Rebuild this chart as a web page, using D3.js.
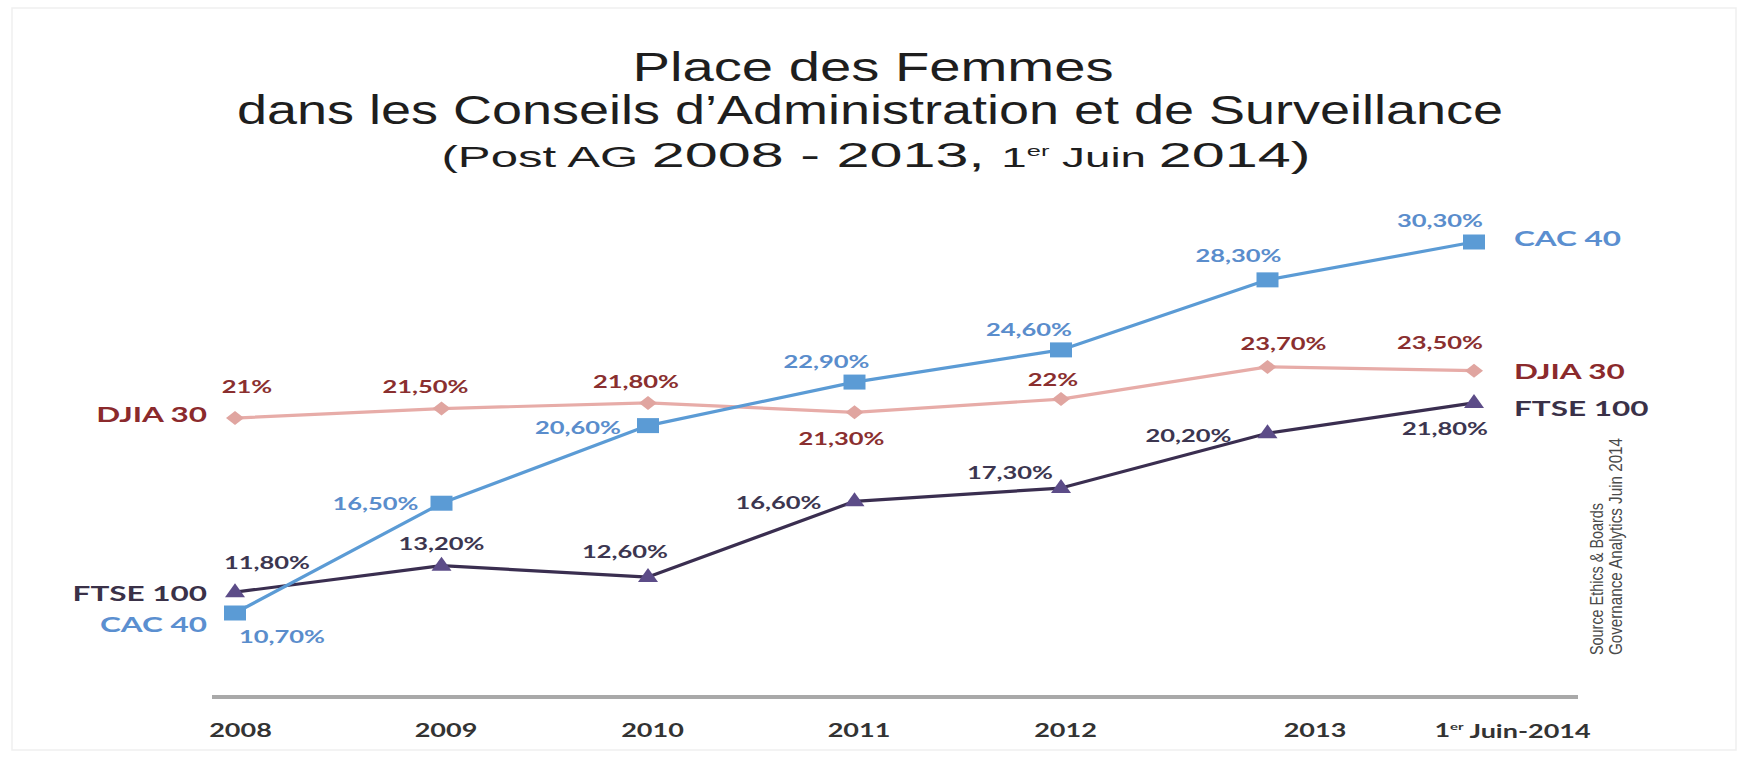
<!DOCTYPE html>
<html>
<head>
<meta charset="utf-8">
<script src="https://cdn.jsdelivr.net/npm/d3@7"></script>
<style>
  html, body { margin: 0; padding: 0; background: #fff; }
  svg { display: block; }
</style>
</head>
<body>
<svg id="plot" width="1742" height="758"></svg>
<script>
// data
const years = ["2008", "2009", "2010", "2011", "2012", "2013", "2014"];
const tickLabels = ["2008", "2009", "2010", "2011", "2012", "2013", "1er Juin-2014"];
const cac40 = [10.7, 16.5, 20.6, 22.9, 24.6, 28.3, 30.3];
const djia30 = [21, 21.5, 21.8, 21.3, 22, 23.7, 23.5];
const ftse100 = [11.8, 13.2, 12.6, 16.6, 17.3, 20.2, 21.8];
const seriesNames = ["CAC 40", "DJIA 30", "FTSE 100"];

// label placement (dx, dy from the marker)
const cacLabelPos = [[47, 24], [-66, 1], [-70, 2], [-28, -20], [-32, -20], [-29, -24], [-34, -21]];
const djiaLabelPos = [[12, -31], [-16, -22], [-12, -21], [-13, 27], [-8, -19], [16, -23], [-34, -28]];
const ftseLabelPos = [[32, -29], [0, -22], [-23, -25], [-76, 2], [-51, -15], [-79, 3], [-29, 26]];

const svg = d3.select("#plot");
const SX = 1.5; // text in the source is stretched sideways

const x = d3.scalePoint().domain(years).range([235, 1474]);
const y = d3.scaleLinear().domain([10.7, 30.3]).range([613, 242]);

const series = [
  { name: seriesNames[1], values: djia30, pos: djiaLabelPos, line: "#e7aca8", marker: "#e0a5a0", text: "#8a2f2f", label: "#8b2a2c", shape: "diamond", lw: 3.2 },
  { name: seriesNames[2], values: ftse100, pos: ftseLabelPos, line: "#3a2e50", marker: "#5c4c88", text: "#3c3650", label: "#3a3148", shape: "triangle", lw: 3.2 },
  { name: seriesNames[0], values: cac40, pos: cacLabelPos, line: "#5b9bd5", marker: "#5b9bd5", text: "#5a8dcc", label: "#5b8fd0", shape: "square", lw: 3.2 }
];

// faint frame
svg.append("rect")
  .attr("x", 12).attr("y", 8).attr("width", 1724).attr("height", 742)
  .attr("fill", "none").attr("stroke", "#efefef").attr("stroke-width", 1.5);

// Title
const title = svg.append("g")
  .attr("font-family", "'Liberation Sans', Arial, Helvetica, sans-serif")
  .attr("fill", "#1e1e1e")
  .attr("text-anchor", "middle");

title.append("text")
  .attr("x", 873).attr("y", 81)
  .attr("font-size", 40)
  .attr("textLength", 481).attr("lengthAdjust", "spacingAndGlyphs")
  .text("Place des Femmes");

title.append("text")
  .attr("x", 870).attr("y", 124)
  .attr("font-size", 40)
  .attr("textLength", 1266).attr("lengthAdjust", "spacingAndGlyphs")
  .text("dans les Conseils d\u2019Administration et de Surveillance");

const t3 = title.append("text")
  .attr("x", 876).attr("y", 167)
  .attr("textLength", 869).attr("lengthAdjust", "spacingAndGlyphs");
t3.append("tspan").attr("font-size", 29).text("(Post AG ");
t3.append("tspan").attr("font-size", 35).text("2008 - 2013, ");
t3.append("tspan").attr("font-size", 27).text("1");
t3.append("tspan").attr("font-size", 15).attr("dy", -11).text("er");
t3.append("tspan").attr("font-size", 27).attr("dy", 11).text(" Juin ");
t3.append("tspan").attr("font-size", 35).text("2014)");

// x axis line + ticks
const plot = svg.append("g");

plot.append("line")
  .attr("x1", x(years[0]) - 23).attr("x2", x(years[6]) + 104)
  .attr("y1", 697).attr("y2", 697)
  .attr("stroke", "#a9a9a9").attr("stroke-width", 4);

const axis = plot.append("g")
  .attr("transform", "translate(0,731)")
  .call(d3.axisBottom(x).tickSize(0).tickPadding(0).tickFormat((d, i) => tickLabels[i]));
axis.select(".domain").remove();

const tickShift = { "2008": 5, "2013": 47, "2014": 38 };
axis.selectAll(".tick text")
  .attr("font-family", "Lato, 'Open Sans', sans-serif")
  .attr("font-weight", 700)
  .attr("font-size", 18)
  .attr("fill", "#333")
  .attr("y", 0).attr("dy", "0.35em")
  .attr("transform", d => `translate(${tickShift[d] || 4},0) scale(${SX},1)`)
  .each(function(d, i) {
    const s = tickLabels[i];
    if (s.startsWith("1er")) {
      const t = d3.select(this).text("");
      t.append("tspan").text("1");
      t.append("tspan").attr("font-size", 10).attr("dy", "-0.7em").text("er");
      t.append("tspan").attr("dy", "0.45em").text(" Juin-2014");
    }
  });

// marker shapes
function markerPath(shape) {
  if (shape === "square") return "M-11,-7.5H11V7.5H-11Z";
  if (shape === "diamond") return "M0,-7L9,0L0,7L-9,0Z";
  return "M0,-9L10,5L-10,5Z";
}

const line = d3.line()
  .x((d, i) => x(years[i]))
  .y(d => y(d));

series.forEach(s => {
  plot.append("path")
    .datum(s.values)
    .attr("fill", "none")
    .attr("stroke", s.line)
    .attr("stroke-width", s.lw)
    .attr("stroke-linejoin", "round")
    .attr("d", line);
});

series.forEach(s => {
  plot.selectAll(null)
    .data(s.values)
    .enter()
    .append("path")
    .attr("transform", (d, i) => `translate(${x(years[i])},${y(d)})`)
    .attr("d", markerPath(s.shape))
    .attr("fill", s.marker);
});

// value labels
const fmt = v => Number.isInteger(v) ? v + "%" : v.toFixed(2).replace(".", ",") + "%";

series.forEach(s => {
  plot.selectAll(null)
    .data(s.values)
    .enter()
    .append("text")
    .attr("transform", (d, i) => `translate(${x(years[i]) + s.pos[i][0]},${y(d) + s.pos[i][1]}) scale(${SX},1)`)
    .attr("text-anchor", "middle")
    .attr("dy", "0.35em")
    .attr("font-family", "Lato, 'Open Sans', sans-serif")
    .attr("font-weight", 700)
    .attr("font-size", 17)
    .attr("fill", s.text)
    .text(d => fmt(d));
});

// series names at both ends
const leftNudge = { "CAC 40": 12, "DJIA 30": -3, "FTSE 100": 1 };
const rightNudge = { "CAC 40": -3, "DJIA 30": 1, "FTSE 100": 6 };
series.forEach(s => {
  const v0 = s.values[0], v1 = s.values[6];
  plot.append("text")
    .attr("transform", `translate(${x(years[0]) - 28},${y(v0) + leftNudge[s.name]}) scale(${SX},1)`)
    .attr("text-anchor", "end")
    .attr("dy", "0.35em")
    .attr("font-family", "Lato, 'Open Sans', sans-serif")
    .attr("font-weight", 700)
    .attr("font-size", 21)
    .attr("fill", s.label)
    .text(s.name);
  plot.append("text")
    .attr("transform", `translate(${x(years[6]) + 40},${y(v1) + rightNudge[s.name]}) scale(${SX},1)`)
    .attr("text-anchor", "start")
    .attr("dy", "0.35em")
    .attr("font-family", "Lato, 'Open Sans', sans-serif")
    .attr("font-weight", 700)
    .attr("font-size", 21)
    .attr("fill", s.label)
    .text(s.name);
});

// source note, rotated
const src = svg.append("g")
  .attr("font-family", "'Liberation Sans Narrow', 'Liberation Sans', Arial, sans-serif")
  .attr("font-size", 19)
  .attr("fill", "#4a4a4a");
src.append("text")
  .attr("transform", "translate(1603,655) rotate(-90)")
  .attr("textLength", 152).attr("lengthAdjust", "spacingAndGlyphs")
  .text("Source Ethics & Boards");
src.append("text")
  .attr("transform", "translate(1622,655) rotate(-90)")
  .attr("textLength", 217).attr("lengthAdjust", "spacingAndGlyphs")
  .text("Governance Analytics Juin 2014");
</script>
</body>
</html>
